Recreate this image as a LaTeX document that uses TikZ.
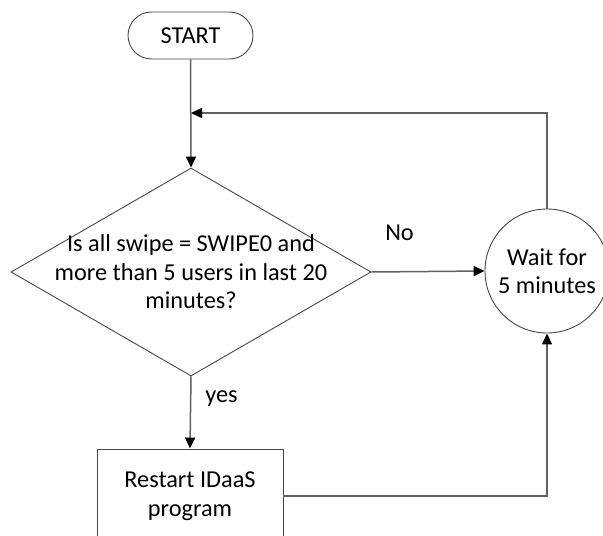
\documentclass[tikz,border=0pt]{standalone}
\usepackage{fontspec}
\setmainfont{Carlito}
\usetikzlibrary{shapes.geometric,arrows.meta}
\begin{document}
\begin{tikzpicture}[x=1pt,y=-1pt,
  txt/.style={font=\fontsize{24.3}{28.5}\selectfont,align=center,inner sep=0pt},
  outline/.style={draw=black!72,line width=0.9pt},
  flow/.style={draw=black!62,line width=1.5pt,arrows={-{Triangle[length=11pt,width=10pt,fill=black,color=black]}}}
]
\useasboundingbox (0,0) rectangle (603,536);
\clip (0,0) rectangle (603,536);

% terminal
\node[outline,txt,rectangle,rounded corners=23.5pt,minimum width=125pt,minimum height=47pt]
  (start) at (190.5,35.5) {START};

% decision
\node[outline,diamond,inner sep=0pt,minimum width=360pt,minimum height=208pt]
  (q) at (191,272) {};
\node[txt] (qtext) at (191,272) {Is all swipe = SWIPE0 and\\more than 5 users in last 20\\minutes?};

% wait state
\node[outline,circle,txt,minimum size=124pt] (w) at (547,271) {Wait for\\5 minutes};

% restart action
\node[outline,txt,rectangle,minimum width=186pt,minimum height=94pt]
  (r) at (190,496) {Restart IDaaS\\program};

% loop-back junction on the main line
\coordinate (j) at (191,113);

% connectors
\draw[flow] (start.south) -- (q.north);
\draw[flow] (w.north) |- (j);
\draw[flow] (q.east) -- (w.west);
\draw[flow] (q.south) -- (r.north);
\draw[flow] (r.east) -| (w.south);

% branch labels
\node[txt] (no) at (399.5,233) {No};
\node[txt] (yes) at (221.5,399) {yes};
\end{tikzpicture}
\end{document}
